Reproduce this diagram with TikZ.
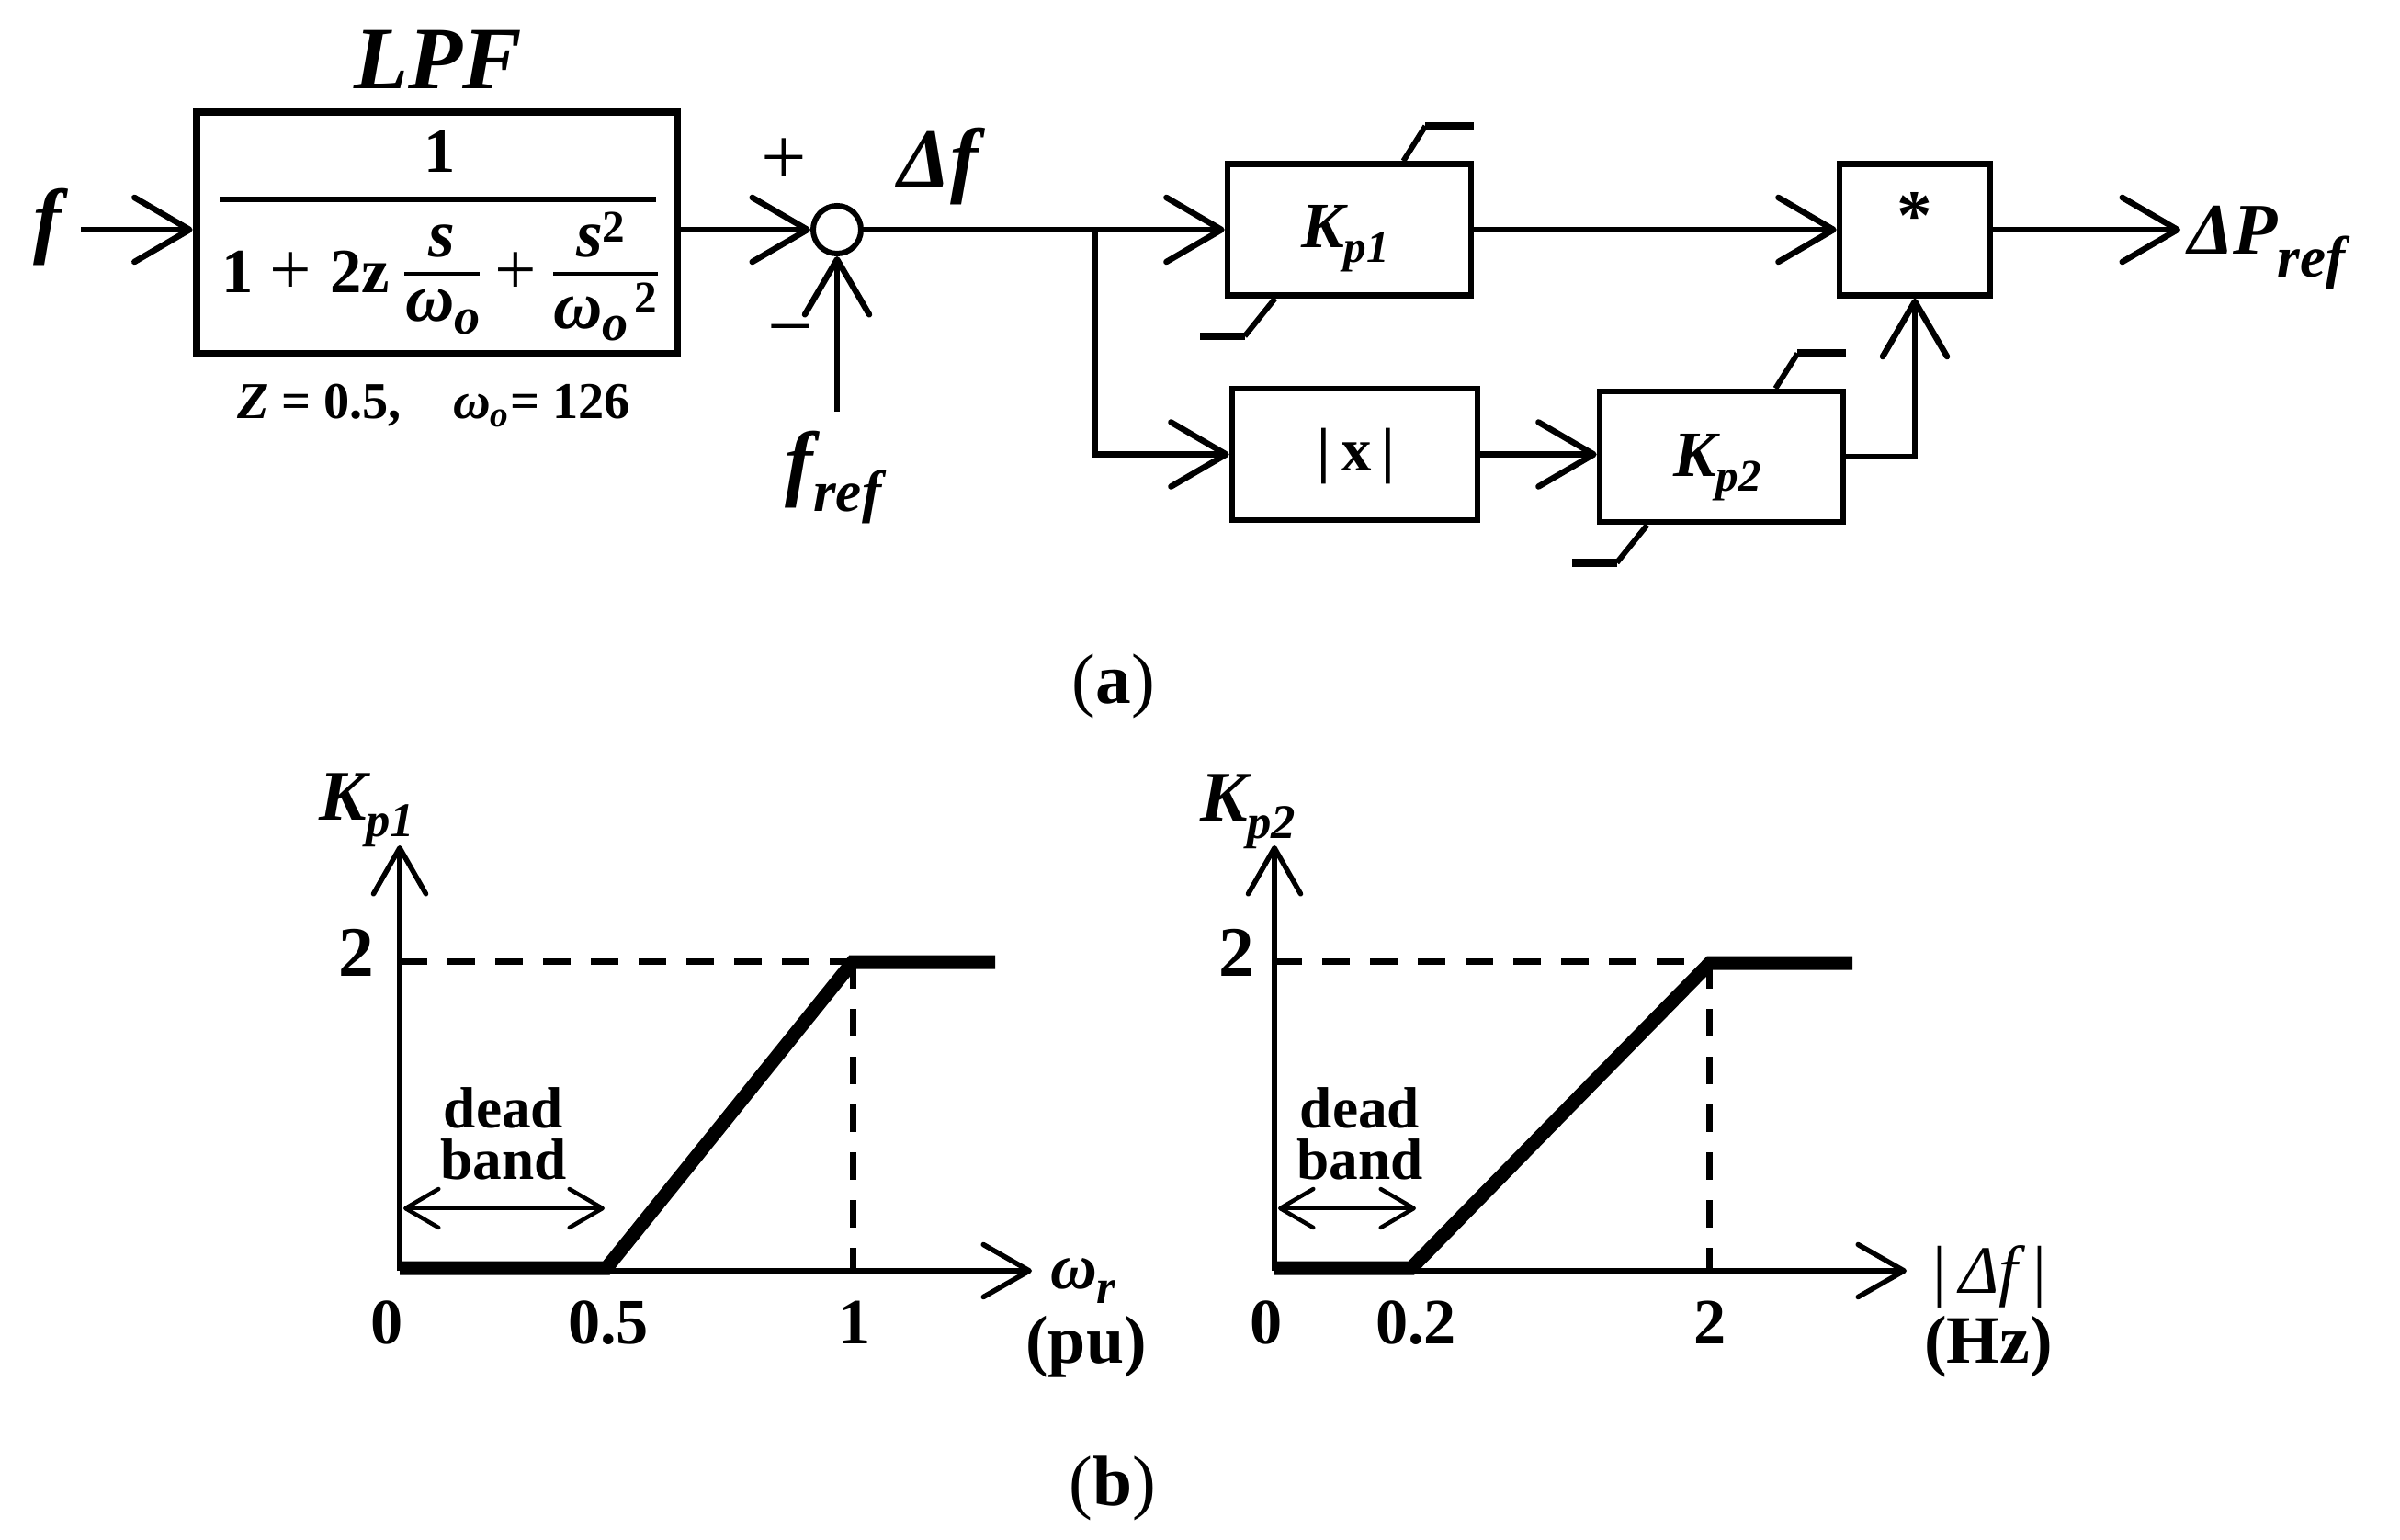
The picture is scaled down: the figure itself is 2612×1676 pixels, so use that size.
\documentclass[tikz,border=0pt]{standalone}
\usepackage{fontspec}
\setmainfont{Liberation Serif}
\usetikzlibrary{arrows.meta}
\newcommand{\myfs}[1]{\fontsize{#1pt}{#1pt}\selectfont}
\begin{document}
\begin{tikzpicture}[x=0.01cm,y=-0.01cm,
  conn/.style={line width=0.065cm},
  arr/.style={conn,-{Straight Barb[length=0.6cm,width=0.7cm,round]}},
  blk/.style={draw,line width=0.065cm,inner sep=0pt,minimum height=1.43cm},
  satd/.style={line width=0.06cm},
  sath/.style={line width=0.085cm},
  txt/.style={inner sep=0pt,outer sep=0pt},
  fx/.style={txt,anchor=base,font=\myfs{19.5}\bfseries},
  fxi/.style={txt,anchor=base west,font=\myfs{21}\bfseries\itshape},
  fplus/.style={txt,font=\myfs{23}},
  fbar/.style={line width=0.05cm},
  fbarin/.style={line width=0.045cm},
  axis/.style={line width=0.055cm,-{Straight Barb[length=0.5cm,width=0.57cm,round]}},
  dband/.style={line width=0.045cm,{Straight Barb[length=0.36cm,width=0.42cm,round]}-{Straight Barb[length=0.36cm,width=0.42cm,round]}},
  dbtext/.style={txt,anchor=base,font=\myfs{18}\bfseries},
  dsh/.style={line width=0.07cm,dash pattern=on 0.3cm off 0.22cm},
  curve/.style={line width=0.15cm,line join=miter},
  tick/.style={txt,anchor=base,font=\myfs{20}\bfseries},
]
\useasboundingbox (0,0) rectangle (2612,1676);

% ---------------- (a) block diagram ----------------
\node[txt,anchor=base,font=\myfs{26}\bfseries\itshape] (flbl) at (52,270) {f};
\coordinate (fin) at (88,250);
\node[draw,line width=0.085cm,inner sep=0pt,minimum width=5.23cm,minimum height=2.63cm] (lpf) at (475.5,253.5) {};
\node[txt,anchor=base,font=\myfs{27.5}\bfseries\itshape] (lpflbl) at (477,97) {LPF};

% transfer function, set piece by piece
\node[fx] (fnum) at (479,188) {1};
\draw[fbar] (239,217) -- (714,217);
\node[fx] (fd1) at (259,318) {1};
\node[fplus] (fp1) at (316,298) {+};
\node[fx] (f2z) at (392,318) {2z};
\node[txt,anchor=base,font=\myfs{21}\bfseries\itshape] (fs1) at (481,280) {s};
\draw[fbarin] (440,298) -- (522,298);
\node[fxi] (fw1) at (441,350) {ω\raisebox{-3.7pt}{\myfs{16}o}};
\node[fplus] (fp2) at (561,298) {+};
\node[fxi] (fs2) at (627,280) {s\raisebox{4.8pt}{\myfs{14}\upshape 2}};
\draw[fbarin] (602,298) -- (716,298);
\node[fxi] (fw2) at (602,357) {ω\raisebox{-3.7pt}{\myfs{16}o}\kern2pt\raisebox{4.8pt}{\myfs{14}\upshape 2}};

\node[txt,anchor=base,font=\myfs{16}\bfseries] (zlbl) at (472,455) {\textit{Z} = 0.5,\quad \textit{ω}\textsubscript{\textit{o}}= 126};

\node[draw,circle,line width=0.06cm,inner sep=0pt,minimum size=0.52cm] (sum) at (911,250) {};
\node[txt,font=\myfs{25}] (plus) at (853,176) {+};
\node[txt,anchor=base,font=\myfs{25}] (minus) at (860,384) {−};
\node[txt,anchor=base,font=\myfs{26}\bfseries\itshape] (df) at (1021,203) {Δf};
\node[txt,anchor=base,font=\myfs{26}\bfseries\itshape] (fref) at (907,533) {f\raisebox{-6.7pt}{\myfs{18}ref}};
\coordinate (frefin) at (911,448);
\coordinate (jn) at (1192,250);

\node[blk,minimum width=2.65cm] (kp1) at (1468.5,250) {};
\node[txt,anchor=base west,font=\myfs{20}\bfseries\itshape] (kp1t) at (1416,269) {K\raisebox{-4.8pt}{\myfs{14}p1}};
\node[blk,minimum width=1.64cm] (mul) at (2084,250) {};
\node[txt,anchor=base,font=\myfs{22}\bfseries] (star) at (2084,261) {*};
\node[blk,minimum width=2.67cm] (absx) at (1474.5,494.5) {};
\node[txt,font=\myfs{19}\bfseries] (absxt) at (1476,497) {|\,x\,|};
\node[blk,minimum width=2.65cm,minimum height=1.42cm] (kp2) at (1873.5,497) {};
\node[txt,anchor=base west,font=\myfs{20}\bfseries\itshape] (kp2t) at (1821,518) {K\raisebox{-4.8pt}{\myfs{14}p2}};
\coordinate (pout) at (2373,250);
\node[txt,anchor=base west,font=\myfs{22.5}\bfseries\itshape] (dp) at (2381,277) {ΔP\raisebox{-7pt}{\myfs{18}ref}};

% saturation marks
\draw[satd] ([shift={(-77,0)}]kp1.north east) -- ++(24,-38) coordinate (k1a);
\draw[sath] (k1a) -- (k1a -| kp1.east);
\draw[satd] ([shift={(55,0)}]kp1.south west) -- ++(-33,41) coordinate (k1b);
\draw[sath] (k1b) -- ++(-49,0);
\draw[satd] ([shift={(-77,0)}]kp2.north east) -- ++(24,-38) coordinate (k2a);
\draw[sath] (k2a) -- (k2a -| kp2.east);
\draw[satd] ([shift={(55,0)}]kp2.south west) -- ++(-33,41) coordinate (k2b);
\draw[sath] (k2b) -- ++(-49,0);

% connectors
\draw[arr] (fin) -- (fin -| lpf.west);
\draw[arr] (lpf.east |- sum) -- (sum.west);
\draw[arr] (frefin) -- (sum.south);
\draw[conn] (sum.east) -- (jn);
\draw[arr] (jn) -- (kp1.west);
\draw[arr] (jn) |- (absx.west);
\draw[arr] (absx.east) -- (kp2.west |- absx.east);
\draw[arr] (kp2.east) -| (mul.south);
\draw[arr] (kp1.east) -- (mul.west);
\draw[arr] (mul.east) -- (pout);

\node[txt,anchor=base,font=\myfs{22}] (alab) at (1212,765) {(\textbf{a})};

% ---------------- (b) characteristics ----------------
% plot 1
\coordinate (o1) at (435,1383);
\coordinate (y1) at (435,920);
\coordinate (x1) at (1123,1383);
\coordinate (c1) at (928,1046);
\draw[axis] (o1) -- (y1);
\draw[axis] (o1) -- (x1);
\draw[dsh] (o1 |- c1) -- (c1);
\draw[dsh] (c1) -- (c1 |- o1);
\draw[curve] (435,1380) -- (660,1380) -- (928,1047) -- (1083,1047);
\draw[dband] (439,1315) -- (658,1315);
\node[txt,anchor=base west,font=\myfs{22}\bfseries\itshape] (k1lbl) at (347,892) {K\raisebox{-5.4pt}{\myfs{15}p1}};
\node[tick,font=\myfs{22}\bfseries] (two1) at (388,1062) {2};
\node[tick] (t10) at (421,1462) {0};
\node[tick] (t105) at (662,1462) {0.5};
\node[tick] (t11) at (930,1462) {1};
\node[dbtext] (dead1) at (548,1227) {dead};
\node[dbtext] (band1) at (548,1283) {band};
\node[txt,anchor=base west,font=\myfs{20}\bfseries\itshape] (wr) at (1143,1402) {ω\raisebox{-4.6pt}{\myfs{15}r}};
\node[txt,anchor=base,font=\myfs{21}\bfseries] (pu) at (1182,1483) {(pu)};

% plot 2
\coordinate (o2) at (1387,1383);
\coordinate (y2) at (1387,920);
\coordinate (x2) at (2075,1383);
\coordinate (c2) at (1860,1046);
\draw[axis] (o2) -- (y2);
\draw[axis] (o2) -- (x2);
\draw[dsh] (o2 |- c2) -- (c2);
\draw[dsh] (c2) -- (c2 |- o2);
\draw[curve] (1387,1380) -- (1536,1380) -- (1861,1048) -- (2016,1048);
\draw[dband] (1391,1315) -- (1541,1315);
\node[txt,anchor=base west,font=\myfs{22}\bfseries\itshape] (k2lbl) at (1306,893) {K\raisebox{-5.4pt}{\myfs{15}p2}};
\node[tick,font=\myfs{22}\bfseries] (two2) at (1346,1062) {2};
\node[tick] (t20) at (1378,1462) {0};
\node[tick] (t202) at (1541,1462) {0.2};
\node[tick] (t22) at (1861,1462) {2};
\node[dbtext] (dead2) at (1480,1227) {dead};
\node[dbtext] (band2) at (1480,1283) {band};
\node[txt,anchor=base,font=\myfs{21}\itshape] (adf) at (2164,1407) {|\,Δf\,|};
\node[txt,anchor=base,font=\myfs{21}\bfseries] (hz) at (2164,1483) {(Hz)};

\node[txt,anchor=base,font=\myfs{22}] (blab) at (1211,1638) {(\textbf{b})};
\end{tikzpicture}
\end{document}
